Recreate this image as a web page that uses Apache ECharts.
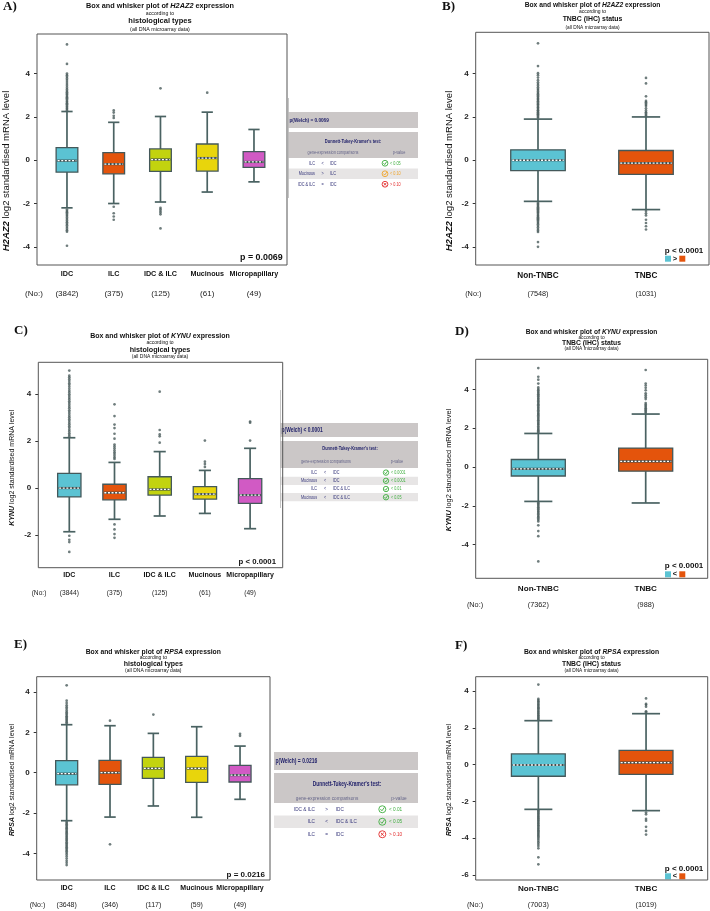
<!DOCTYPE html>
<html><head><meta charset="utf-8">
<script src="https://cdn.jsdelivr.net/npm/echarts@6/dist/echarts.min.js"></script>
<style>html,body{margin:0;padding:0;background:#fff}#c{width:710px;height:911px}</style>
</head><body><div id="c"></div>
<script>
// ---------------- DATA ----------------
const histCats = ['IDC', 'ILC', 'IDC & ILC', 'Mucinous', 'Micropapillary'];
const tnbcCats = ['Non-TNBC', 'TNBC'];
const histColors = ['#5bc3d3', '#e4540c', '#c2d30f', '#e8d50c', '#d15ac4'];
const tnbcColors = ['#5bc3d3', '#e4540c'];

const countsA = ['(3842)', '(375)', '(125)', '(61)', '(49)'];
const countsB = ['(7548)', '(1031)'];
const countsC = ['(3844)', '(375)', '(125)', '(61)', '(49)'];
const countsD = ['(7362)', '(988)'];
const countsE = ['(3648)', '(346)', '(117)', '(59)', '(49)'];
const countsF = ['(7003)', '(1019)'];

// [lower whisker, Q1, median, Q3, upper whisker]
const boxA = [[-2.2, -0.55, -0.02, 0.58, 2.25], [-2.0, -0.63, -0.18, 0.35, 1.75], [-1.93, -0.52, 0.03, 0.52, 2.02], [-1.47, -0.5, 0.1, 0.75, 2.22], [-1.0, -0.33, -0.08, 0.4, 1.42]];
const boxB = [[-1.9, -0.48, 0.0, 0.48, 1.9], [-2.28, -0.65, -0.13, 0.45, 2.0]];
const boxC = [[-1.86, -0.38, 0.0, 0.62, 2.14], [-1.33, -0.5, -0.2, 0.16, 1.09], [-1.19, -0.3, -0.06, 0.48, 1.55], [-1.08, -0.47, -0.26, 0.06, 0.75], [-1.73, -0.65, -0.3, 0.4, 1.69]];
const boxD = [[-1.77, -0.46, -0.09, 0.39, 1.73], [-1.85, -0.21, 0.29, 0.98, 2.73]];
const boxE = [[-2.38, -0.6, -0.05, 0.6, 2.38], [-2.2, -0.58, 0.0, 0.61, 2.33], [-1.65, -0.28, 0.21, 0.76, 1.95], [-2.21, -0.48, 0.21, 0.81, 2.28], [-1.32, -0.46, -0.12, 0.36, 1.32]];
const boxF = [[-2.43, -0.63, -0.02, 0.58, 2.39], [-2.5, -0.53, 0.11, 0.78, 2.77]];

// outliers per category
const outA = [
  [2.3, 2.36, 2.41, 2.47, 2.52, 2.58, 2.63, 2.69, 2.74, 2.8, 2.86, 2.91, 2.97, 3.03, 3.08, 3.14, 3.2, 3.27, 3.35, 3.44, 3.52, 3.61, 3.7, 3.78, 3.86, 3.93, 4.0, 4.45, 5.35,
   -2.28, -2.34, -2.4, -2.46, -2.52, -2.58, -2.65, -2.72, -2.79, -2.86, -2.93, -3.0, -3.08, -3.16, -3.24, -3.3, -3.95],
  [1.95, 2.05, 2.2, 2.3, -2.15, -2.45, -2.6, -2.75],
  [3.32, -2.2, -2.27, -2.35, -2.42, -2.5, -3.15],
  [3.12],
  []
];
const outB = [
  [1.96, 2.01, 2.07, 2.12, 2.16, 2.22, 2.27, 2.31, 2.37, 2.42, 2.46, 2.52, 2.57, 2.61, 2.67, 2.72, 2.78, 2.83, 2.88, 2.94, 2.99, 3.05, 3.11, 3.17, 3.24, 3.3, 3.37, 3.45, 3.52, 3.6, 3.7, 3.82, 3.93, 4.02, 4.35, 5.4,
   -1.96, -2.01, -2.06, -2.11, -2.17, -2.22, -2.27, -2.32, -2.37, -2.42, -2.47, -2.53, -2.58, -2.63, -2.68, -2.73, -2.78, -2.84, -2.9, -2.96, -3.03, -3.1, -3.18, -3.25, -3.31, -3.78, -4.0],
  [2.05, 2.1, 2.16, 2.22, 2.3, 2.4, 2.5, 2.56, 2.62, 2.68, 2.74, 2.95, 3.55, 3.8, -2.35, -2.45, -2.55, -2.75, -2.9, -3.05, -3.2]
];
const outC = [
  [2.19, 2.26, 2.33, 2.41, 2.48, 2.56, 2.63, 2.71, 2.78, 2.86, 2.93, 3.01, 3.08, 3.16, 3.24, 3.31, 3.39, 3.46, 3.54, 3.62, 3.69, 3.77, 3.84, 3.92, 3.99, 4.07, 4.14, 4.22, 4.31, 4.39, 4.46, 4.55, 4.63, 4.71, 4.78, 5.0,
   -2.03, -2.2, -2.3, -2.72],
  [1.24, 1.3, 1.37, 1.45, 1.52, 1.6, 1.69, 1.77, 1.85, 2.1, 2.31, 2.55, 2.7, 3.06, 3.56, -1.55, -1.76, -1.96, -2.12],
  [1.93, 2.2, 2.28, 2.47, 4.1],
  [0.9, 1.02, 1.12, 2.02],
  [2.02, 2.78, 2.83]
];
const outD = [
  [1.78, 1.84, 1.9, 1.96, 2.03, 2.09, 2.16, 2.22, 2.28, 2.35, 2.41, 2.47, 2.54, 2.6, 2.67, 2.73, 2.79, 2.86, 2.92, 2.99, 3.05, 3.11, 3.18, 3.24, 3.31, 3.37, 3.43, 3.5, 3.56, 3.63, 3.69, 3.75, 3.82, 3.88, 3.95, 4.02, 4.1, 4.3, 4.5, 4.65, 5.1,
   -1.82, -1.88, -1.94, -2.0, -2.07, -2.13, -2.19, -2.26, -2.32, -2.39, -2.45, -2.52, -2.58, -2.65, -2.72, -2.8, -3.0, -3.3, -3.56, -4.86],
  [2.79, 2.85, 2.91, 2.97, 3.03, 3.09, 3.16, 3.22, 3.3, 3.5, 3.6, 3.7, 3.8, 3.95, 4.08, 4.2, 4.3, 5.0]
];
const outE = [
  [2.43, 2.5, 2.56, 2.62, 2.68, 2.74, 2.8, 2.87, 2.93, 3.0, 3.08, 3.17, 3.25, 3.34, 3.45, 3.57, 4.33,
   -2.43, -2.5, -2.56, -2.62, -2.69, -2.75, -2.81, -2.88, -2.94, -3.0, -3.07, -3.13, -3.19, -3.26, -3.32, -3.38, -3.45, -3.51, -3.57, -3.64, -3.7, -3.76, -3.83, -3.9, -3.97, -4.05, -4.15, -4.26, -4.37, -4.47, -4.58],
  [2.58, -3.55],
  [2.88],
  [],
  [1.83, 1.93]
];
const outF = [
  [2.45, 2.5, 2.56, 2.62, 2.68, 2.75, 2.81, 2.87, 2.93, 3.0, 3.06, 3.12, 3.19, 3.25, 3.31, 3.38, 3.44, 3.51, 3.58, 4.35,
   -2.48, -2.54, -2.6, -2.66, -2.72, -2.79, -2.85, -2.91, -2.98, -3.04, -3.1, -3.17, -3.23, -3.3, -3.36, -3.43, -3.49, -3.56, -3.62, -3.69, -3.75, -3.82, -3.89, -3.96, -4.04, -4.13, -4.22, -4.32, -4.42, -4.55, -5.04, -5.42],
  [2.85, 2.9, 3.15, 3.25, 3.3, 3.6, -2.6, -2.7, -2.95, -3.05, -3.38, -3.6, -3.8]
];

// y tick labels
const ticksA = [-4, -2, 0, 2, 4];
const ticksB = [-4, -2, 0, 2, 4];
const ticksC = [-2, 0, 2, 4];
const ticksD = [-4, -2, 0, 2, 4];
const ticksE = [-4, -2, 0, 2, 4];
const ticksF = [-6, -4, -2, 0, 2, 4];

// tables
const welchA = 'p(Welch) = 0.0069';
const dtkA = [['ILC', '<', 'IDC', '< 0.05', 'g'], ['Mucinous', '>', 'ILC', '< 0.10', 'o'], ['IDC & ILC', '=', 'IDC', '> 0.10', 'r']];
const welchC = 'p(Welch) < 0.0001';
const dtkC = [['ILC', '<', 'IDC', '< 0.0001', 'g'], ['Mucinous', '<', 'IDC', '< 0.0001', 'g'], ['ILC', '<', 'IDC & ILC', '< 0.01', 'g'], ['Mucinous', '<', 'IDC & ILC', '< 0.05', 'g']];
const welchE = 'p(Welch) = 0.0216';
const dtkE = [['IDC & ILC', '>', 'IDC', '< 0.01', 'g'], ['ILC', '<', 'IDC & ILC', '< 0.05', 'g'], ['ILC', '=', 'IDC', '> 0.10', 'r']];

// ---------------- LAYOUT ----------------
const FONT = '"Liberation Sans", Arial, Helvetica, sans-serif';
const SERIF = '"Liberation Serif", "Times New Roman", serif';

const panels = [
  {letter: 'A)', gene: 'H2AZ2', group: 'histological types', cats: histCats, counts: countsA, box: boxA, out: outA, ticks: ticksA, colors: histColors,
   fl: 37, fr: 287, ft: 34, fb: 265, gl: 43.6, gw: 233.75, ymin: -4.84, ymax: 5.83, ratio: 0.464,
   g1: 9, g2: 19.3, catFs: 7.2, cntFs: 8, let: [3, 7], tx: 160, ty: [6, 14, 21.3, 29.3], tfs: [7.3, 5.2, 7.5, 5.3],
   nx: 6, ny: 171, nfs: 9.5, nox: 34, noy: 293.3, p: 'p = 0.0069', px: 282.7, py: 257.7, pfs: 8.9, legend: null},
  {letter: 'B)', gene: 'H2AZ2', group: 'TNBC (IHC) status', cats: tnbcCats, counts: countsB, box: boxB, out: outB, ticks: ticksB, colors: tnbcColors,
   fl: 475.7, fr: 709, ft: 32.3, fb: 265, gl: 484, gw: 216, ymin: -4.84, ymax: 5.91, ratio: 0.505,
   g1: 10.3, g2: 19, catFs: 8.2, cntFs: 7.3, let: [442, 7], tx: 592.5, ty: [5.3, 11.3, 19.3, 28], tfs: [6.7, 5, 6.9, 4.8],
   nx: 449.3, ny: 171, nfs: 9.5, nox: 473.3, noy: 294, p: 'p < 0.0001', px: 703.3, py: 250.3, pfs: 8, legend: {op: '>', y: 258.7}},
  {letter: 'C)', gene: 'KYNU', group: 'histological types', cats: histCats, counts: countsC, box: boxC, out: outC, ticks: ticksC, colors: histColors,
   fl: 38.3, fr: 282.7, ft: 362.3, fb: 567.7, gl: 46.7, gw: 226, ymin: -3.39, ymax: 5.35, ratio: 0.516,
   g1: 7.6, g2: 18, catFs: 7, cntFs: 6.6, let: [14, 331], tx: 160, ty: [336, 342.7, 350, 356.7], tfs: [7, 5, 7.2, 5],
   nx: 11.7, ny: 467.7, nfs: 7, nox: 39, noy: 593.3, p: 'p < 0.0001', px: 276, py: 562.3, pfs: 7.8, legend: null},
  {letter: 'D)', gene: 'KYNU', group: 'TNBC (IHC) status', cats: tnbcCats, counts: countsD, box: boxD, out: outD, ticks: ticksD, colors: tnbcColors,
   fl: 475.7, fr: 707.7, ft: 359.3, fb: 578.3, gl: 484.6, gw: 214.8, ymin: -5.73, ymax: 5.55, ratio: 0.503,
   g1: 10, g2: 16.7, catFs: 8.1, cntFs: 7.3, let: [455, 332], tx: 591.5, ty: [332.3, 337.3, 343.3, 348.7], tfs: [6.6, 4.8, 6.8, 4.8],
   nx: 449.3, ny: 470, nfs: 7.4, nox: 475, noy: 605, p: 'p < 0.0001', px: 703.3, py: 565.7, pfs: 8, legend: {op: '<', y: 574.3}},
  {letter: 'E)', gene: 'RPSA', group: 'histological types', cats: histCats, counts: countsE, box: boxE, out: outE, ticks: ticksE, colors: histColors,
   fl: 36.7, fr: 270, ft: 676.7, fb: 880, gl: 45, gw: 216.7, ymin: -5.32, ymax: 4.76, ratio: 0.508,
   g1: 8.3, g2: 17, catFs: 7, cntFs: 7, let: [14, 645], tx: 153.3, ty: [651.7, 657.3, 664.3, 671], tfs: [6.8, 5, 7, 5],
   nx: 11.7, ny: 780, nfs: 6.8, nox: 37.5, noy: 905.3, p: 'p = 0.0216', px: 265, py: 875, pfs: 8, legend: null},
  {letter: 'F)', gene: 'RPSA', group: 'TNBC (IHC) status', cats: tnbcCats, counts: countsF, box: boxF, out: outF, ticks: ticksF, colors: tnbcColors,
   fl: 475.7, fr: 707.7, ft: 676.7, fb: 880, gl: 484.5, gw: 215.4, ymin: -6.27, ymax: 4.78, ratio: 0.5,
   g1: 8.3, g2: 16.7, catFs: 8.1, cntFs: 7.3, let: [455, 646], tx: 591.5, ty: [651.7, 657.3, 664.3, 670.7], tfs: [6.8, 4.8, 6.8, 4.8],
   nx: 449.3, ny: 780, nfs: 6.8, nox: 475, noy: 905, p: 'p < 0.0001', px: 703.3, py: 868.3, pfs: 8, legend: {op: '<', y: 876.3}}
];

const tables = [
  {welch: welchA, rows: dtkA, x0: 288, x1: 418, wb: [112, 128], hb: [132, 158], tY: 142, cY: 153, r0: 158, rh: 10.5,
   cR: 315, oX: 322.7, cL: 330, iX: 385, pX: 390, tX: 353, cX: 333, pvX: 399, fs: 4.9, wfs: 6, ir: 2.9, edge: [98, 198]},
  {welch: welchC, rows: dtkC, x0: 280, x1: 418, wb: [423, 437], hb: [441, 468], tY: 449, cY: 462, r0: 468.5, rh: 8.2,
   cR: 317, oX: 325, cL: 333, iX: 386, pX: 391, tX: 350, cX: 326, pvX: 397, fs: 4.8, wfs: 6.3, ir: 2.7, edge: [390, 508]},
  {welch: welchE, rows: dtkE, x0: 274, x1: 418, wb: [752, 770], hb: [773, 803], tY: 784, cY: 798, r0: 803, rh: 12.5,
   cR: 315, oX: 326.7, cL: 335.7, iX: 382.3, pX: 389, tX: 347, cX: 327, pvX: 399, fs: 6, wfs: 6.4, ir: 3.5, edge: null}
];

// ---------------- HELPERS ----------------
function T(x, y, text, o) {
  o = o || {};
  const a = o.a || 'left';
  return {type: 'text', x: x, y: y, rotation: o.rot || 0, scaleX: o.sx || 1, z: 50, silent: true,
    style: {text: text, fontSize: o.fs || 8, fontWeight: o.fw || 'normal', fontStyle: o.fst || 'normal',
      fontFamily: o.ff || FONT, fill: o.c || '#111', align: a, textAlign: a,
      verticalAlign: 'middle', textVerticalAlign: 'middle', rich: o.rich}};
}
function R(x, y, w, h, fill, stroke, lw) {
  return {type: 'rect', z: o2z(stroke), silent: true, shape: {x: x, y: y, width: w, height: h},
    style: {fill: fill, stroke: stroke || null, lineWidth: lw || 0}};
}
function o2z(stroke) { return stroke ? 60 : 40; }
function L(x1, y1, x2, y2, stroke, lw) {
  return {type: 'line', z: 45, silent: true, shape: {x1: x1, y1: y1, x2: x2, y2: y2}, style: {stroke: stroke, lineWidth: lw}};
}
function icon(cx, cy, r, kind) {
  const col = kind === 'g' ? '#3fae3f' : (kind === 'o' ? '#f0a428' : '#e22a2a');
  const els = [{type: 'circle', z: 50, silent: true, shape: {cx: cx, cy: cy, r: r}, style: {fill: 'none', stroke: col, lineWidth: 0.9}}];
  if (kind === 'r') {
    els.push(L(cx - r * 0.45, cy - r * 0.45, cx + r * 0.45, cy + r * 0.45, col, 0.9));
    els.push(L(cx - r * 0.45, cy + r * 0.45, cx + r * 0.45, cy - r * 0.45, col, 0.9));
  } else {
    els.push({type: 'polyline', z: 50, silent: true, shape: {points: [[cx - r * 0.55, cy - r * 0.05], [cx - r * 0.1, cy + r * 0.45], [cx + r * 0.6, cy - r * 0.55]]},
      style: {fill: 'none', stroke: col, lineWidth: 0.9}});
  }
  return els;
}
function pColor(k) { return k === 'g' ? '#3fae3f' : (k === 'o' ? '#f0a428' : '#e22a2a'); }

function makeRender(colors, ratio) {
  return function (params, api) {
    const x = api.value(0);
    const lo = api.coord([x, api.value(1)]);
    const q1 = api.coord([x, api.value(2)]);
    const md = api.coord([x, api.value(3)]);
    const q3 = api.coord([x, api.value(4)]);
    const hi = api.coord([x, api.value(5)]);
    const band = api.size([1, 0])[0];
    const bw = band * ratio, cw = bw * 0.52;
    const cx = lo[0];
    const wc = '#4a6262', wl = 1.7;
    return {type: 'group', children: [
      {type: 'line', shape: {x1: cx, y1: q1[1], x2: cx, y2: lo[1]}, style: {stroke: wc, lineWidth: wl}},
      {type: 'line', shape: {x1: cx, y1: q3[1], x2: cx, y2: hi[1]}, style: {stroke: wc, lineWidth: wl}},
      {type: 'line', shape: {x1: cx - cw / 2, y1: lo[1], x2: cx + cw / 2, y2: lo[1]}, style: {stroke: wc, lineWidth: wl}},
      {type: 'line', shape: {x1: cx - cw / 2, y1: hi[1], x2: cx + cw / 2, y2: hi[1]}, style: {stroke: wc, lineWidth: wl}},
      {type: 'rect', shape: {x: cx - bw / 2, y: q3[1], width: bw, height: q1[1] - q3[1]},
       style: {fill: colors[params.dataIndex], stroke: '#44585a', lineWidth: 1.3}},
      {type: 'line', shape: {x1: cx - bw / 2 + 1, y1: md[1], x2: cx + bw / 2 - 1, y2: md[1]}, style: {stroke: '#3d4d4d', lineWidth: 2.2}},
      {type: 'line', shape: {x1: cx - bw / 2 + 1.5, y1: md[1], x2: cx + bw / 2 - 1.5, y2: md[1]}, style: {stroke: '#ffffff', lineWidth: 1.3, lineDash: [2, 1.6]}}
    ]};
  };
}

// ---------------- BUILD ----------------
const grids = [], xAxes = [], yAxes = [], series = [], gfx = [];

panels.forEach(function (P, i) {
  grids.push({left: P.gl, top: P.ft, width: P.gw, height: P.fb - P.ft});
  const counts = P.counts;
  xAxes.push({type: 'category', gridIndex: i, data: P.cats,
    axisLine: {show: false}, splitLine: {show: false},
    axisTick: {show: true, alignWithLabel: true, length: 3, lineStyle: {color: '#333', width: 1}},
    axisLabel: {margin: 0, interval: 0,
      formatter: function (v, k) { return '{n|' + v + '}\n{c|' + counts[k] + '}'; },
      rich: {n: {fontSize: P.catFs, fontWeight: 'bold', fontFamily: FONT, color: '#111', lineHeight: 2 * P.g1},
             c: {fontSize: P.cntFs, fontFamily: FONT, color: '#222', lineHeight: 2 * (P.g2 - P.g1)}}}});
  yAxes.push({type: 'value', gridIndex: i, min: P.ymin, max: P.ymax, offset: P.gl - P.fl,
    axisLine: {show: false}, splitLine: {show: false},
    axisTick: {show: true, length: 3, customValues: P.ticks, lineStyle: {color: '#333', width: 1}},
    axisLabel: {customValues: P.ticks, fontSize: 8, fontWeight: 'bold', fontFamily: FONT, color: '#222', margin: 7}});
  series.push({type: 'custom', xAxisIndex: i, yAxisIndex: i, silent: true, z: 3,
    data: P.box.map(function (d, k) { return [k].concat(d); }),
    encode: {x: 0, y: [1, 2, 3, 4, 5]}, renderItem: makeRender(P.colors, P.ratio)});
  const pts = [];
  P.out.forEach(function (vals, k) { vals.forEach(function (v) { pts.push([k, v]); }); });
  series.push({type: 'scatter', xAxisIndex: i, yAxisIndex: i, silent: true, z: 2, data: pts,
    symbol: 'circle', symbolSize: 2.7, itemStyle: {color: '#4b5d5d'}});

  // frame
  gfx.push(R(P.fl, P.ft, P.fr - P.fl, P.fb - P.ft, 'none', '#555', 1));
  // panel letter
  gfx.push(T(P.let[0], P.let[1], P.letter, {fs: 13, fw: 'bold', ff: SERIF, c: '#111'}));
  // titles
  gfx.push(T(P.tx, P.ty[0], '{b|Box and whisker plot of }{bi|' + P.gene + '}{b| expression}', {a: 'center',
    rich: {b: {fontSize: P.tfs[0], fontWeight: 'bold', fontFamily: FONT, fill: '#111'},
           bi: {fontSize: P.tfs[0], fontWeight: 'bold', fontStyle: 'italic', fontFamily: FONT, fill: '#111'}}}));
  gfx.push(T(P.tx, P.ty[1], 'according to', {a: 'center', fs: P.tfs[1]}));
  gfx.push(T(P.tx, P.ty[2], P.group, {a: 'center', fs: P.tfs[2], fw: 'bold'}));
  gfx.push(T(P.tx, P.ty[3], '(all DNA microarray data)', {a: 'center', fs: P.tfs[3]}));
  // y axis name
  gfx.push(T(P.nx, P.ny, '{bi|' + P.gene + '}{n| log2 standardised mRNA level}', {a: 'center', rot: Math.PI / 2,
    rich: {bi: {fontSize: P.nfs, fontWeight: 'bold', fontStyle: 'italic', fontFamily: FONT, fill: '#111'},
           n: {fontSize: P.nfs, fontFamily: FONT, fill: '#111'}}}));
  // (No:)
  gfx.push(T(P.nox, P.noy, '(No:)', {a: 'center', fs: P.cntFs, c: '#222'}));
  // p text
  gfx.push(T(P.px, P.py, P.p, {a: 'right', fs: P.pfs, fw: 'bold'}));
  if (P.legend) {
    const y = P.legend.y;
    gfx.push(R(665, y - 3, 6, 6, '#5bc3d3'));
    gfx.push(T(675, y, P.legend.op, {a: 'center', fs: 7.5, fw: 'bold'}));
    gfx.push(R(679.3, y - 3, 6, 6, '#e4540c'));
  }
});

tables.forEach(function (tb) {
  const w = tb.x1 - tb.x0, sx = 0.78, navy = '#23236b', rowc = '#35357a', headc = '#66668a';
  gfx.push(R(tb.x0, tb.wb[0], w, tb.wb[1] - tb.wb[0], '#cbc7c7'));
  gfx.push(T(tb.x0 + 1.5, (tb.wb[0] + tb.wb[1]) / 2, tb.welch, {fs: tb.wfs, fw: 'bold', c: navy, sx: sx}));
  gfx.push(R(tb.x0, tb.hb[0], w, tb.hb[1] - tb.hb[0], '#cbc7c7'));
  gfx.push(T(tb.tX, tb.tY, "Dunnett-Tukey-Kramer's test:", {fs: tb.fs + 0.3, fw: 'bold', c: navy, a: 'center', sx: sx}));
  gfx.push(T(tb.cX, tb.cY, 'gene-expression comparisons', {fs: tb.fs, c: headc, a: 'center', sx: sx}));
  gfx.push(T(tb.pvX, tb.cY, 'p-value', {fs: tb.fs, c: headc, a: 'center', sx: sx}));
  tb.rows.forEach(function (r, k) {
    const top = tb.r0 + k * tb.rh, cy = top + tb.rh / 2;
    if (k % 2 === 1) gfx.push(R(tb.x0, top, w, tb.rh, '#e7e5e5'));
    gfx.push(T(tb.cR, cy, r[0], {fs: tb.fs, c: rowc, a: 'right', sx: sx}));
    gfx.push(T(tb.oX, cy, r[1], {fs: tb.fs, c: rowc, a: 'center', sx: sx}));
    gfx.push(T(tb.cL, cy, r[2], {fs: tb.fs, c: rowc, sx: sx}));
    icon(tb.iX, cy, tb.ir, r[4]).forEach(function (e) { gfx.push(e); });
    gfx.push(T(tb.pX, cy, r[3], {fs: tb.fs, c: pColor(r[4]), sx: sx}));
  });
  if (tb.edge) {
    gfx.push(L(tb.x0 + 0.5, tb.edge[0], tb.x0 + 0.5, tb.edge[1], '#b8b8b8', 0.8));
  }
});

const chart = echarts.init(document.getElementById('c'), null, {renderer: 'canvas', width: 710, height: 911});
chart.setOption({
  animation: false,
  backgroundColor: '#ffffff',
  grid: grids, xAxis: xAxes, yAxis: yAxes, series: series,
  graphic: {elements: gfx}
});
</script>
</body></html>
